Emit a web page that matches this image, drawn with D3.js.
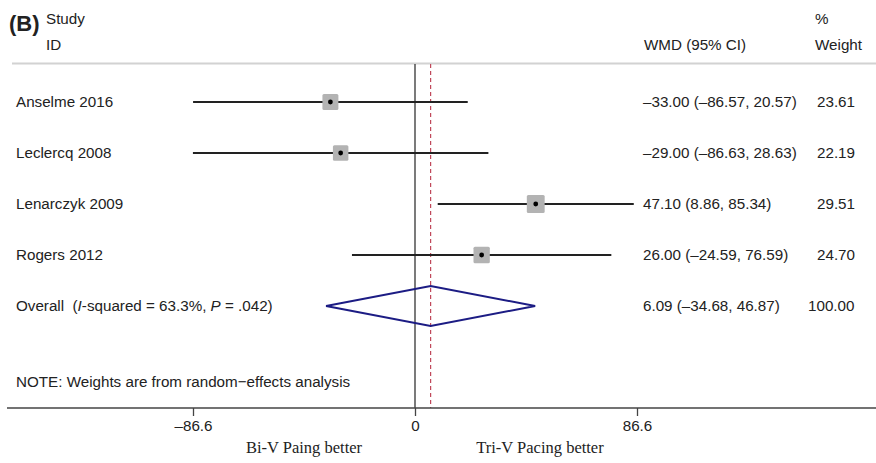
<!DOCTYPE html>
<html>
<head>
<meta charset="utf-8">
<script src="https://cdn.jsdelivr.net/npm/d3@7"></script>
<style>
  body { margin: 0; background: #fff; }
  text { font-family: "Liberation Sans", Arial, sans-serif; fill: #222; }
</style>
</head>
<body>
<svg id="plot" width="876" height="463"></svg>
<script>
var studies = ["Anselme 2016", "Leclercq 2008", "Lenarczyk 2009", "Rogers 2012"];
var wmd = [-33.00, -29.00, 47.10, 26.00];
var lower = [-86.57, -86.63, 8.86, -24.59];
var upper = [20.57, 28.63, 85.34, 76.59];
var weights = [23.61, 22.19, 29.51, 24.70];
var ciLabels = ["\u201333.00 (\u201386.57, 20.57)", "\u201329.00 (\u201386.63, 28.63)",
                "47.10 (8.86, 85.34)", "26.00 (\u201324.59, 76.59)"];
var overall = {est: 6.09, lo: -34.68, hi: 46.87, weight: "100.00", label: "6.09 (\u201334.68, 46.87)"};
var tickValues = [-86.6, 0, 86.6];
var tickLabels = ["\u201386.6", "0", "86.6"];

var fs = 15.2;
var svg = d3.select("#plot");

var x = d3.scaleLinear()
        .domain([-86.6, 86.6])
        .range([193, 637]);

var y = d3.scalePoint()
        .domain(d3.range(0, 5))
        .range([102, 306]);

var boxSize = d3.scaleSqrt()
        .domain([0, 30])
        .range([0, 18]);

// header
svg.append("text").attr("x", 9).attr("y", 31)
    .attr("font-size", 22).attr("font-weight", "bold").text("(B)");
svg.append("text").attr("x", 46).attr("y", 24).attr("font-size", fs).text("Study");
svg.append("text").attr("x", 46).attr("y", 50).attr("font-size", fs).text("ID");
svg.append("text").attr("x", 644).attr("y", 50).attr("font-size", fs).text("WMD (95% CI)");
svg.append("text").attr("x", 815).attr("y", 24).attr("font-size", fs).text("%");
svg.append("text").attr("x", 815).attr("y", 50).attr("font-size", fs).text("Weight");

svg.append("line")
    .attr("x1", 12).attr("x2", 876)
    .attr("y1", 63.5).attr("y2", 63.5)
    .attr("stroke", "#d2d2d2").attr("stroke-width", 2);

// zero line and overall line
svg.append("line")
    .attr("x1", x(0)).attr("x2", x(0))
    .attr("y1", 64).attr("y2", 408)
    .attr("stroke", "#333").attr("stroke-width", 1.3);

svg.append("line")
    .attr("x1", x(overall.est)).attr("x2", x(overall.est))
    .attr("y1", 64).attr("y2", 408)
    .attr("stroke", "#c0485a").attr("stroke-width", 1.2)
    .attr("stroke-dasharray", "4,3");

var rows = svg.append("g").selectAll("g")
    .data(studies)
    .enter().append("g");

rows.append("line")
    .attr("x1", function(d, i) { return x(lower[i]); })
    .attr("x2", function(d, i) { return x(upper[i]); })
    .attr("y1", function(d, i) { return y(i); })
    .attr("y2", function(d, i) { return y(i); })
    .attr("stroke", "#222").attr("stroke-width", 2.2);

rows.append("rect")
    .attr("x", function(d, i) { return x(wmd[i]) - boxSize(weights[i]) / 2; })
    .attr("y", function(d, i) { return y(i) - boxSize(weights[i]) / 2; })
    .attr("width", function(d, i) { return boxSize(weights[i]); })
    .attr("height", function(d, i) { return boxSize(weights[i]); })
    .attr("rx", 1.5)
    .attr("fill", "#b3b3b3");

rows.append("circle")
    .attr("cx", function(d, i) { return x(wmd[i]); })
    .attr("cy", function(d, i) { return y(i); })
    .attr("r", 2.4)
    .attr("fill", "#000");

rows.append("text")
    .attr("x", 16)
    .attr("y", function(d, i) { return y(i) + 5; })
    .attr("font-size", fs)
    .text(function(d) { return d; });

rows.append("text")
    .attr("x", 643)
    .attr("y", function(d, i) { return y(i) + 5; })
    .attr("font-size", fs)
    .text(function(d, i) { return ciLabels[i]; });

rows.append("text")
    .attr("x", 817)
    .attr("y", function(d, i) { return y(i) + 5; })
    .attr("font-size", fs)
    .text(function(d, i) { return weights[i].toFixed(2); });

// overall diamond
var yo = y(4);
svg.append("path")
    .attr("d", "M" + x(overall.lo) + "," + yo +
               "L" + x(overall.est) + "," + (yo - 20) +
               "L" + x(overall.hi) + "," + yo +
               "L" + x(overall.est) + "," + (yo + 20) + "Z")
    .attr("fill", "none")
    .attr("stroke", "#1c1c84")
    .attr("stroke-width", 2);

var ov = svg.append("text").attr("x", 16).attr("y", yo + 5).attr("font-size", fs)
    .attr("xml:space", "preserve");
ov.append("tspan").text("Overall\u00a0 (");
ov.append("tspan").attr("font-style", "italic").text("I");
ov.append("tspan").text("-squared = 63.3%, ");
ov.append("tspan").attr("font-style", "italic").text("P");
ov.append("tspan").text(" = .042)");

svg.append("text").attr("x", 643).attr("y", yo + 5).attr("font-size", fs).text(overall.label);
svg.append("text").attr("x", 808).attr("y", yo + 5).attr("font-size", fs).text(overall.weight);

svg.append("text").attr("x", 16).attr("y", 387).attr("font-size", fs)
    .text("NOTE: Weights are from random\u2212effects analysis");

// axis
var axis = svg.append("g")
    .attr("transform", "translate(0,408)");

axis.append("line")
    .attr("x1", 7).attr("x2", 876)
    .attr("stroke", "#444").attr("stroke-width", 1.5);

axis.call(d3.axisBottom(x)
        .tickValues(tickValues)
        .tickSize(8)
        .tickPadding(4)
        .tickFormat(function(d, i) { return tickLabels[i]; }))
    .select(".domain").remove();

axis.selectAll(".tick line").attr("stroke", "#444").attr("stroke-width", 1.3);
axis.selectAll(".tick text")
    .attr("font-family", "Liberation Sans, Arial, sans-serif")
    .attr("font-size", fs)
    .attr("fill", "#222");

svg.append("text").attr("x", 304).attr("y", 453)
    .attr("text-anchor", "middle")
    .style("font-family", "Liberation Serif, Times New Roman, serif")
    .attr("font-size", 16.5).text("Bi-V Paing better");
svg.append("text").attr("x", 540).attr("y", 453)
    .attr("text-anchor", "middle")
    .style("font-family", "Liberation Serif, Times New Roman, serif")
    .attr("font-size", 16.5).text("Tri-V Pacing better");
</script>
</body>
</html>
